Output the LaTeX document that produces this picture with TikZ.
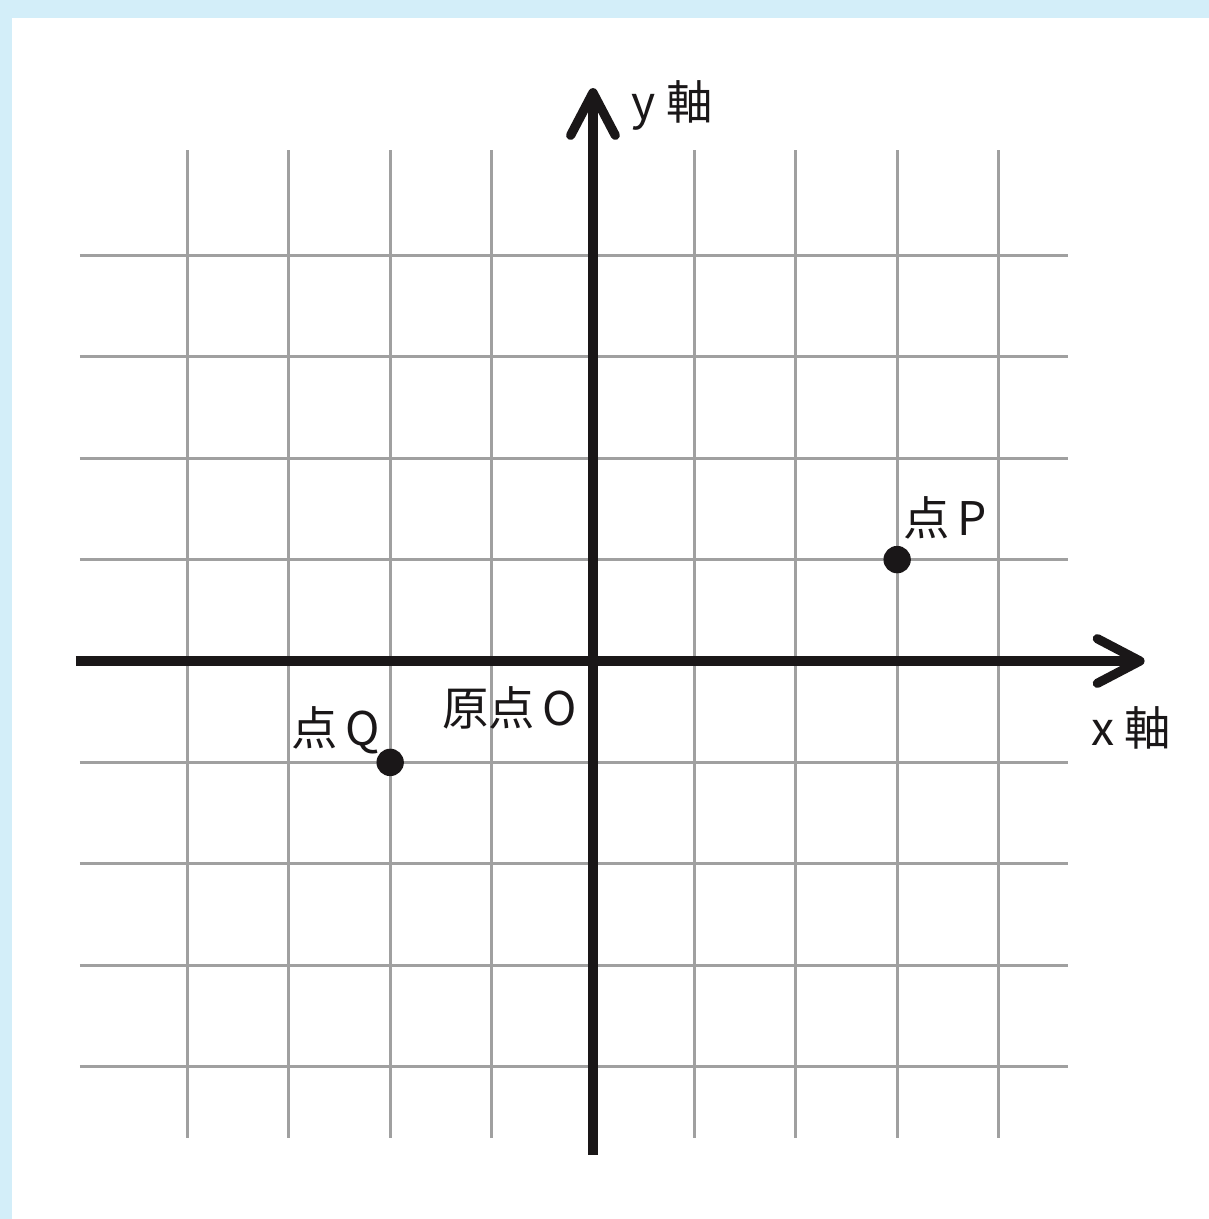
\documentclass[tikz,border=0pt]{standalone}
\usepackage{fontspec}
\setmainfont{Noto Sans CJK JP}
\usetikzlibrary{arrows.meta}
\definecolor{skyback}{RGB}{211,238,249}
\definecolor{gridgray}{RGB}{160,160,160}
\definecolor{inkblack}{RGB}{26,23,24}

\begin{document}
\begin{tikzpicture}[
  every node/.style={font=\fontsize{13pt}{15pt}\selectfont,text=inkblack},
  gridline/.style={draw=gridgray,line width=0.85pt},
  axisline/.style={draw=inkblack,line width=2.6pt,-{Straight Barb[length=4.2mm,width=4.4mm,round]}},
  dotnode/.style={circle,fill=inkblack,inner sep=0pt,minimum size=0.27cm}
]
  % backdrop
  \fill[skyback] (-5.848,-5.503) rectangle (6.075,6.519);
  \fill[white] (-5.73,-5.503) rectangle (6.075,6.341);
  \useasboundingbox (-5.848,-5.503) rectangle (6.075,6.519);
  % grid
  \foreach \k in {-4,-3,-2,-1,1,2,3,4}{
    \draw[gridline] (\k,-4.70) -- (\k,5.04);
    \draw[gridline] (-5.06,\k) -- (4.68,\k);
  }
  % axes
  \coordinate (xstart) at (-5.10,0);
  \coordinate (xend) at (5.44,0);
  \coordinate (ystart) at (0,-4.87);
  \coordinate (yend) at (0,5.65);
  \draw[axisline] (xstart) -- (xend);
  \draw[axisline] (ystart) -- (yend);
  % points
  \node[dotnode] (P) at (3,1) {};
  \node[dotnode] (Q) at (-2,-1) {};
  \node (ylabel) at (0.78,5.48) {y 軸};
  \node (xlabel) at (5.31,-0.66) {x 軸};
  \node (olabel) at (-0.82,-0.46) {原点\,O};
  \node (plabel) at (3.47,1.41) {点\,P};
  \node (qlabel) at (-2.54,-0.68) {点\,Q};
\end{tikzpicture}
\end{document}
